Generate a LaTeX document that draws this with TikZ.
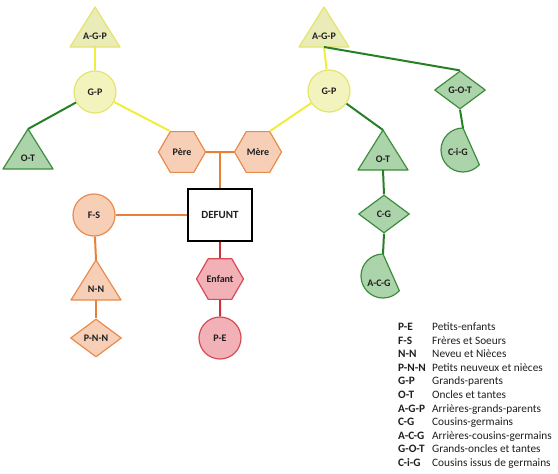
\documentclass[tikz,border=0pt]{standalone}
\usepackage{fontspec}
\setmainfont{Carlito}
\usetikzlibrary{shapes.geometric,calc}
\definecolor{yfill}{RGB}{243,243,190}
\definecolor{ytfill}{RGB}{233,236,182}
\definecolor{yborder}{RGB}{228,228,110}
\definecolor{yline}{RGB}{240,238,60}
\definecolor{gfill}{RGB}{172,212,170}
\definecolor{gborder}{RGB}{62,140,62}
\definecolor{gline}{RGB}{38,128,38}
\definecolor{ofill}{RGB}{247,206,182}
\definecolor{oborder}{RGB}{232,140,78}
\definecolor{oline}{RGB}{232,128,58}
\definecolor{rfill}{RGB}{242,176,183}
\definecolor{rborder}{RGB}{214,76,86}
\definecolor{rline}{RGB}{204,50,60}
\definecolor{txt}{RGB}{30,30,30}
\newcommand{\mytri}[5]{%
  \draw[#4] (#2,#3) -- ++(25,40) -- ++(-50,0) -- cycle;
  \coordinate (#1-top) at (#2,#3);
  \coordinate (#1-base) at ($(#2,#3)+(0,40)$);
  \node[lbl] (#1) at ($(#2,#3)+(0,29)$) {#5};
}
\newcommand{\mychord}[7]{%
  \draw[#4] (#2,#3) ++(0,-22) arc[start angle=270, end angle=42, radius=22] -- cycle;
  \coordinate (#1-top) at ($(#2,#3)+(0,-22)$);
  \node[lbl] (#1) at (#6,#7) {#5};
}
\begin{document}
\begin{tikzpicture}[x=1pt,y=-1pt,
  lbl/.style={font=\bfseries\fontsize{10}{12}\selectfont, text=txt, inner sep=0pt},
  shp/.style={line width=1.2pt, inner sep=0pt, font=\bfseries\fontsize{10}{12}\selectfont, text=txt},
  circ/.style={shp, circle, minimum size=42pt},
  hexa/.style={shp, regular polygon, regular polygon sides=6, minimum size=47pt},
  diam/.style={shp, diamond, minimum width=51pt, minimum height=38pt},
  ysh/.style={draw=yborder, fill=yfill},
  ytri/.style={draw=yborder, fill=ytfill, line width=1.2pt, line join=round},
  gsh/.style={draw=gborder, fill=gfill, line width=1.2pt, line join=round},
  osh/.style={draw=oborder, fill=ofill, line width=1.2pt, line join=round},
  rsh/.style={draw=rborder, fill=rfill},
  conn/.style={line width=2pt},
  yl/.style={conn, draw=yline},
  gl/.style={conn, draw=gline},
  ol/.style={conn, draw=oline},
  rl/.style={conn, draw=rline},
  lega/.style={font=\bfseries\fontsize{11.3}{13}\selectfont, text=txt, inner sep=0pt, anchor=base west},
  legb/.style={font=\fontsize{11.3}{13}\selectfont, text=txt, inner sep=0pt, anchor=base west}
]
\useasboundingbox (0,0) rectangle (558,474);

% circles, hexagons, diamonds, box
\node[circ, ysh] (gpL) at (95,92) {G-P};
\node[circ, ysh] (gpR) at (329,91) {G-P};
\node[hexa, osh] (pere) at (182,152) {Père};
\node[hexa, osh] (mere) at (258,152) {Mère};
\node[shp, rectangle, draw=black, fill=white, line width=2pt, minimum width=64pt, minimum height=52pt,
      font=\bfseries\fontsize{11}{13}\selectfont] (defunt) at (220,215) {DEFUNT};
\node[circ, osh] (fs) at (94,215) {F-S};
\node[diam, osh] (pnn) at (96,338) {P-N-N};
\node[hexa, rsh] (enfant) at (220,279) {Enfant};
\node[circ, rsh] (pe) at (220,338) {P-E};
\node[diam, gsh] (got) at (460,90) {G-O-T};
\node[diam, gsh] (cg) at (384,214) {C-G};

% triangles
\mytri{agpL}{95}{7}{ytri}{A-G-P}
\mytri{agpR}{324}{7}{ytri}{A-G-P}
\mytri{otL}{28}{129}{gsh}{O-T}
\mytri{otR}{383}{130}{gsh}{O-T}
\mytri{nn}{96}{260}{osh}{N-N}

% chords
\mychord{cig}{463}{150}{gsh}{C-i-G}{458}{152}
\mychord{acg}{383}{276}{gsh}{A-C-G}{379}{283}

% connectors
\draw[yl] (agpL-base) -- (gpL);
\draw[gl] (gpL) -- (otL-top);
\draw[yl] (gpL) -- (pere.120);
\draw[yl] (mere.60) -- (gpR);
\draw[yl] (agpR-base) -- (gpR);
\draw[gl] (agpR-base) -- (got.north);
\draw[gl] (gpR) -- (otR-top);
\draw[gl] (otR-base) -- (cg.north);
\draw[gl] (cg.south) -- (acg-top);
\draw[gl] (got.south) -- (cig-top);
\draw[ol] (pere) -- (mere);
\coordinate (pm) at ($(pere)!0.5!(mere)$);
\draw[ol] (pm) -- (defunt);
\draw[ol] (fs) -- (defunt);
\draw[ol] (fs) -- (nn-top);
\draw[ol] (nn-base) -- (pnn);
\draw[rl] (defunt) -- (enfant);
\draw[rl] (enfant) -- (pe);

% legend
\foreach \a/\b [count=\i from 0] in {P-E/Petits-enfants, F-S/Frères et Soeurs, N-N/Neveu et Nièces,
  P-N-N/Petits neuveux et nièces, G-P/Grands-parents, O-T/Oncles et tantes,
  A-G-P/Arrières-grands-parents, C-G/Cousins-germains, A-C-G/Arrières-cousins-germains,
  G-O-T/Grands-oncles et tantes, C-i-G/Cousins issus de germains}{
  \node[lega] (la\i) at (398,{330.5+13.6*\i}) {\a};
  \node[legb] (lb\i) at (432,{330.5+13.6*\i}) {\b};
}
\end{tikzpicture}
\end{document}
